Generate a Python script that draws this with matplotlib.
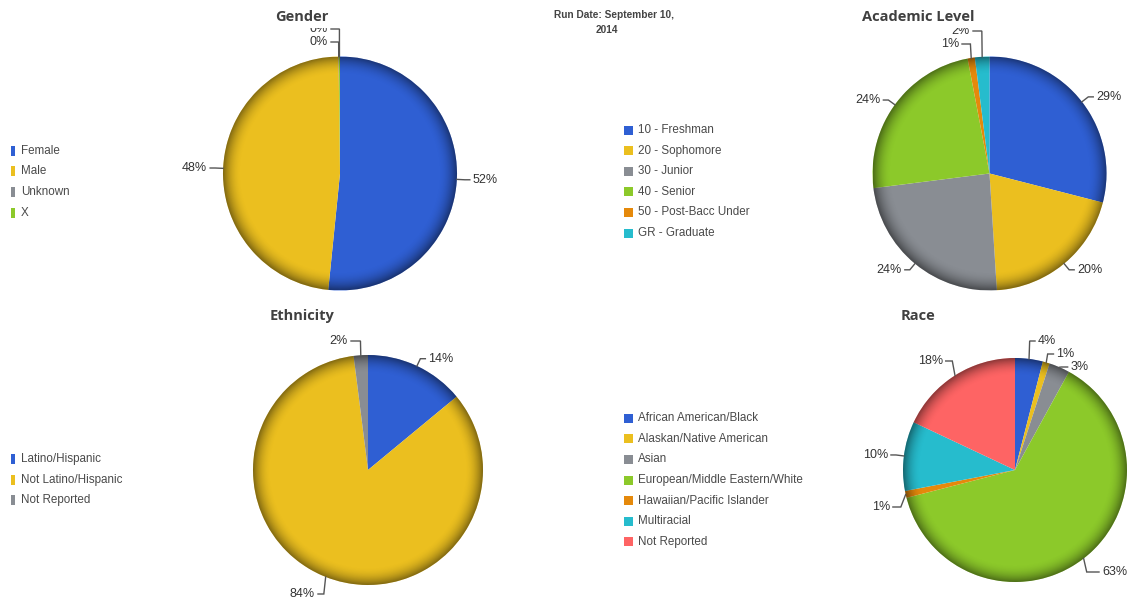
import numpy as np
import matplotlib
matplotlib.use("Agg")
import matplotlib.pyplot as plt
from matplotlib.patches import Circle, Rectangle
from matplotlib.transforms import Bbox, TransformedBbox

# ---- data -------------------------------------------------------------
gender_labels = ["Female", "Male", "Unknown", "X"]
gender_pct = [51.6, 48.2, 0.05, 0.15]

academic_labels = ["10 - Freshman", "20 - Sophomore", "30 - Junior",
                   "40 - Senior", "50 - Post-Bacc Under", "GR - Graduate"]
academic_pct = [29, 20, 24, 24, 1, 2]

ethnicity_labels = ["Latino/Hispanic", "Not Latino/Hispanic", "Not Reported"]
ethnicity_pct = [14, 84, 2]

race_labels = ["African American/Black", "Alaskan/Native American", "Asian",
               "European/Middle Eastern/White", "Hawaiian/Pacific Islander",
               "Multiracial", "Not Reported"]
race_pct = [4, 1, 3, 63, 1, 10, 18]

run_date = "Run Date: September 10,"
run_year = "2014"

# ---- style ------------------------------------------------------------
BLUE, YELLOW, GRAY = "#2f5fd3", "#ebbf1f", "#898d93"
GREEN, ORANGE, CYAN, RED = "#8cc92a", "#e5890b", "#26bccd", "#fe6464"
PALETTE = [BLUE, YELLOW, GRAY, GREEN, ORANGE, CYAN, RED]

W, H = 1130, 602
LABEL_FONT = "Liberation Sans"
TITLE_FONT = "Open Sans"

fig = plt.figure(figsize=(W / 100, H / 100), dpi=100)
fig.patch.set_facecolor("white")

# overlay in pixel coordinates for titles, labels, connectors and legends
ov = fig.add_axes([0, 0, 1, 1], zorder=10)
ov.set_xlim(0, W)
ov.set_ylim(H, 0)
ov.axis("off")
ov.patch.set_alpha(0)

# data labels are clipped to the plotting area below the title band
plot_area = TransformedBbox(Bbox([[0, 27.5], [W, H]]), ov.transData)


def rim_shading(ax):
    n = 500
    yy, xx = np.mgrid[-1:1:n * 1j, -1:1:n * 1j]
    r = np.hypot(xx, yy)
    a = np.clip((r - 0.84) / 0.16, 0, 1) ** 2 * 0.45
    img = np.zeros((n, n, 4))
    img[..., 3] = a
    im = ax.imshow(img, extent=(-1, 1, -1, 1), zorder=5,
                   interpolation="bilinear", origin="lower")
    im.set_clip_path(Circle((0, 0), 1, transform=ax.transData))


def draw_pie(cx, cy, R, values, colors, overrides=None):
    overrides = overrides or {}
    ax = fig.add_axes([(cx - R) / W, 1 - (cy + R) / H, 2 * R / W, 2 * R / H])
    ax.pie(values, colors=colors, startangle=90, counterclock=False,
           radius=1, wedgeprops=dict(linewidth=0))
    ax.set_xlim(-1, 1)
    ax.set_ylim(-1, 1)
    ax.set_aspect("equal")
    ax.axis("off")
    rim_shading(ax)

    vals = np.asarray(values, dtype=float)
    fr = vals / vals.sum()
    mids = (np.cumsum(fr) - fr / 2) * 2 * np.pi
    for i, (v, t) in enumerate(zip(vals, mids)):
        s, c = np.sin(t), np.cos(t)
        right = s >= 0
        edge = (cx + R * s, cy - R * c)
        bx, by = cx + (R + 8) * s, cy - (R + 8) * c
        ax_ = bx + (5 if right else -5)
        ay = by
        if i in overrides:
            ox, oy = overrides[i]
            if ox is not None:
                ax_ = ox
            if oy is not None:
                ay = oy
                bx = cx + (R + 5) * s
            by = ay
        ln, = ov.plot([edge[0], bx, ax_], [edge[1], by, ay],
                      color="#555555", lw=1.0, solid_joinstyle="miter")
        ln.set_clip_box(plot_area)
        tx = ov.text(ax_ + (3 if right else -3), ay, f"{v:.0f}%",
                     ha="left" if right else "right", va="center",
                     fontsize=9, family=LABEL_FONT, color="#333333",
                     clip_on=True)
        tx.set_clip_box(plot_area)


def legend(x, y0, labels, colors, w, h):
    for k, (lab, col) in enumerate(zip(labels, colors)):
        y = y0 + k * 20.6
        ov.add_patch(Rectangle((x, y - h / 2), w, h, color=col, lw=0))
        ov.text(x + (w + 5 if w > 6 else 10), y, lab, va="center", ha="left",
                fontsize=8.4, family=LABEL_FONT, color="#4a4a4a")


def title(x, y, text):
    ov.text(x, y, text, ha="center", va="center", fontsize=10.5,
            family=TITLE_FONT, weight="bold", color="#404040")


# ---- pies -------------------------------------------------------------
draw_pie(340, 173.5, 117, gender_pct, PALETTE[:4],
         overrides={2: (331, 42), 3: (331, 29)})
draw_pie(989.5, 173.5, 117, academic_pct, PALETTE[:6],
         overrides={4: (962, 44), 5: (973, 31)})
draw_pie(368, 470, 115, ethnicity_pct, PALETTE[:3],
         overrides={1: (318, 594), 2: (351, 341)})
draw_pie(1015, 470, 112, race_pct, PALETTE[:7],
         overrides={0: (None, 341), 1: (None, 354), 2: (None, 367),
                    3: (1099, 572), 4: (None, 507), 6: (None, 361)})

# ---- titles -----------------------------------------------------------
title(302, 17, "Gender")
title(918, 17, "Academic Level")
title(302, 316, "Ethnicity")
title(918, 316, "Race")

ov.text(614, 15, run_date, ha="center", va="center", fontsize=7.3,
        family=LABEL_FONT, weight="bold", color="#444444")
ov.text(607, 30, run_year, ha="center", va="center", fontsize=7.3,
        family=LABEL_FONT, weight="bold", color="#444444")

# ---- legends ----------------------------------------------------------
legend(11, 150.7, gender_labels, PALETTE[:4], 4, 10)
legend(624, 130, academic_labels, PALETTE[:6], 9, 9)
legend(11, 459, ethnicity_labels, PALETTE[:3], 4, 10)
legend(624, 418.3, race_labels, PALETTE[:7], 9, 9)

fig.savefig("out.png", dpi=100, facecolor="white")
